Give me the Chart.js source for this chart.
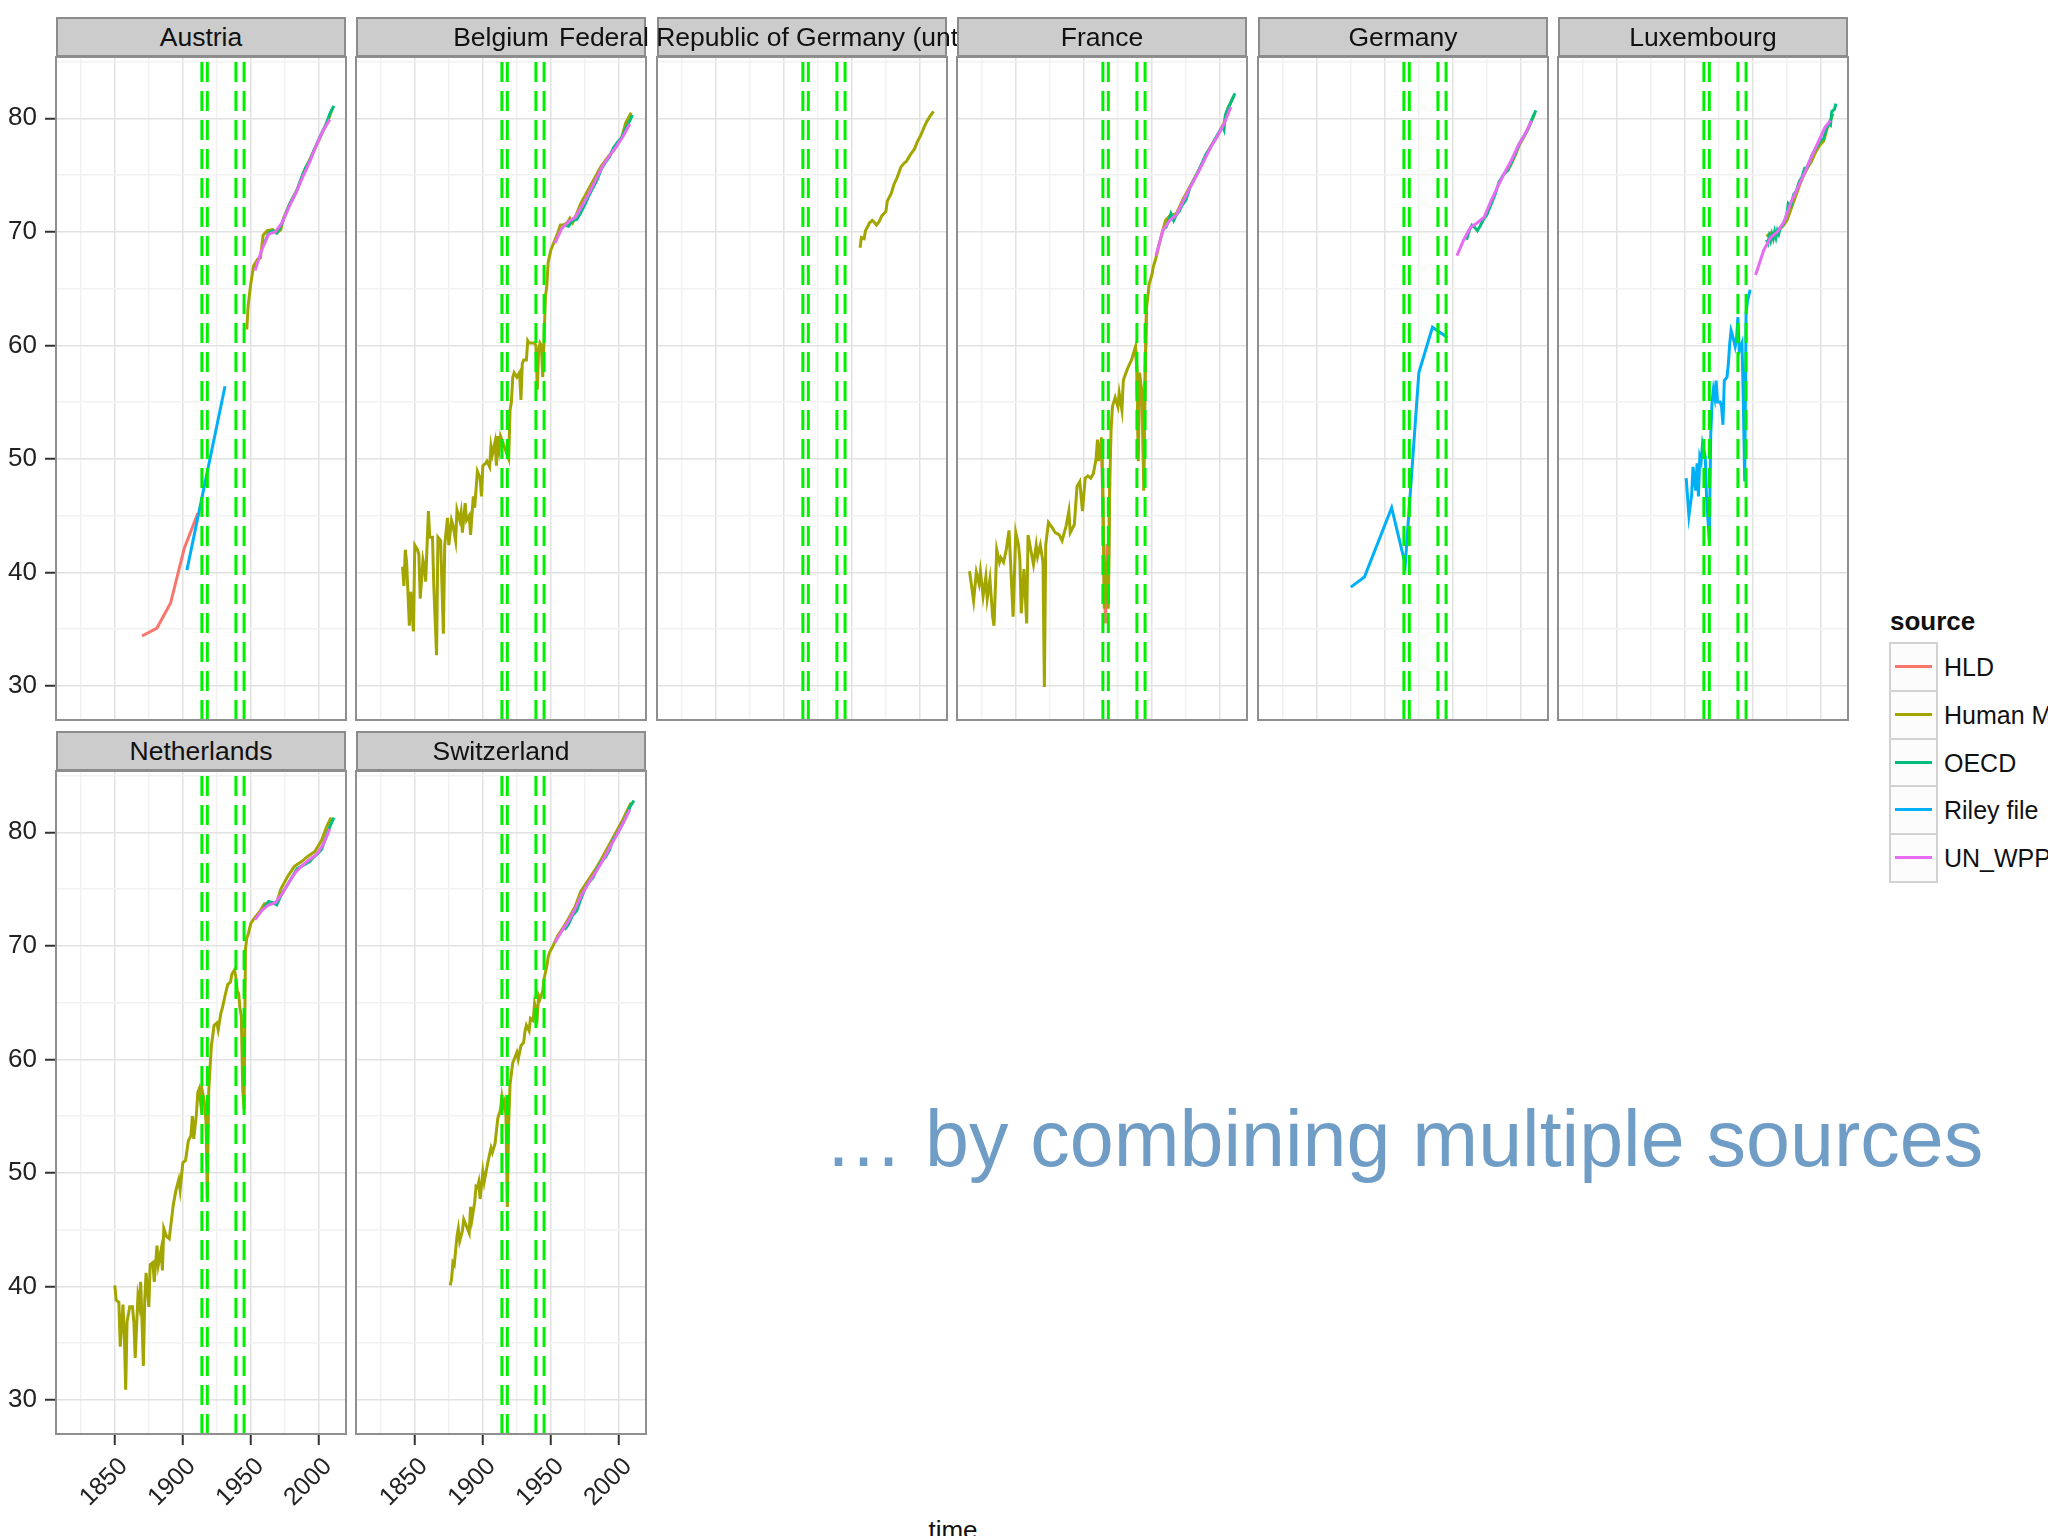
<!DOCTYPE html>
<html>
<head>
<meta charset="utf-8">
<script src="https://cdn.jsdelivr.net/npm/chart.js@4.4.1/dist/chart.umd.min.js"></script>
<style>
  html, body { margin: 0; padding: 0; background: #fff; }
  body { width: 2048px; height: 1536px; position: relative; overflow: hidden;
         font-family: "Liberation Sans", Arial, sans-serif; }
  canvas { position: absolute; }
  .strip { position: absolute; height: 40px; background: #cccccc; border: 2px solid #8c8c8c;
           box-sizing: border-box; }
  .strip span { position: absolute; left: 50%; top: 50%; transform: translate(-50%, -50%);
                white-space: nowrap; font-size: 26.5px; color: #111; }
  .key { position: absolute; left: 1889px; width: 49px; height: 50px; box-sizing: border-box;
         border: 2px solid #d2d2d2; background: #fcfcfc; }
  .key i { position: absolute; left: 4px; right: 4px; top: 21px; height: 3px; }
  .keylab { position: absolute; left: 1944px; font-size: 25px; color: #111; white-space: nowrap; line-height: 30px; }
</style>
</head>
<body>
<div id="page"></div>
<script>
// --- data: life expectancy at birth ---
const countries = ["Austria", "Belgium", "Federal Republic of Germany (until 1990)", "France",
  "Germany", "Luxembourg", "Netherlands", "Switzerland"];
const sources = ["HLD", "Human Mortality Database", "OECD", "Riley file", "UN_WPP"];
const sourceColors = ["#F8766D", "#A3A500", "#00BF7D", "#00B0F6", "#E76BF3"];
const warYears = [1914, 1918, 1939, 1945];
const xMajor = [1850, 1900, 1950, 2000];
const yMajor = [30, 40, 50, 60, 70, 80];

// Austria
const austriaHld = [[1870,34.4],[1881,35.1],[1891,37.3],[1901,42.1],[1911,45.2]];
const austriaRiley = [[1903,40.2],[1931,56.4]];
const austriaHmd = [[1947,61.4],[1948,63.5],[1950,65.5],[1952,67.0],[1955,67.6],[1957,67.7],[1959,69.7],
  [1962,70.1],[1966,70.2],[1969,69.9],[1972,70.2],[1974,71.2],[1979,72.6],[1984,73.7],[1989,75.3],
  [1995,76.8],[2002,78.6],[2007,79.9],[2010,80.9]];
const austriaOecd = [[1960,69.0],[1963,69.9],[1966,70.1],[1969,69.9],[1972,70.5],[1975,71.4],[1978,72.3],
  [1981,73.0],[1984,73.7],[1987,74.7],[1990,75.6],[1993,76.2],[1996,77.1],[1999,77.9],[2002,78.7],
  [2005,79.4],[2008,80.4],[2011,81.1]];
const austriaUn = [[1953,66.6],[1958,68.4],[1963,69.8],[1968,70.0],[1973,70.8],[1978,72.2],[1983,73.4],
  [1988,74.8],[1993,76.1],[1998,77.6],[2003,78.9],[2008,79.9]];

// Belgium
const belgiumHmd = [[1841,40.5],[1842,38.8],[1843,42.0],[1844,40.9],[1846,35.3],[1847,38.3],[1849,34.8],
  [1850,42.4],[1852,42.0],[1853,41.6],[1854,37.7],[1856,41.1],[1857,40.5],[1858,39.2],[1860,45.4],
  [1861,43.1],[1863,43.1],[1864,38.7],[1866,32.7],[1867,43.1],[1869,42.8],[1871,34.6],[1872,42.4],
  [1874,44.8],[1875,42.4],[1877,44.6],[1878,44.2],[1880,42.8],[1881,45.5],[1883,44.6],[1884,45.3],
  [1885,43.5],[1887,46.1],[1888,44.6],[1890,45.0],[1891,43.3],[1893,46.7],[1894,45.7],[1896,48.9],
  [1898,48.3],[1899,46.7],[1900,49.4],[1902,49.6],[1903,49.8],[1905,49.3],[1906,51.1],[1907,50.4],
  [1909,51.5],[1910,49.4],[1911,52.0],[1912,50.9],[1913,52.0],[1919,50.0],[1920,54.3],[1921,55.0],
  [1922,57.2],[1923,57.6],[1925,57.2],[1926,57.4],[1927,57.6],[1928,55.2],[1929,58.4],[1930,58.7],
  [1932,58.7],[1933,60.4],[1934,60.2],[1936,60.2],[1938,60.2],[1939,60.0],[1940,56.1],[1941,59.5],
  [1942,60.2],[1943,60.0],[1944,57.2],[1945,60.6],[1946,64.3],[1947,65.2],[1948,67.3],[1950,68.4],
  [1952,69.0],[1955,69.9],[1957,70.6],[1959,70.6],[1962,70.8],[1964,71.2],[1966,70.8],[1969,71.6],
  [1972,72.5],[1977,73.6],[1982,74.7],[1987,75.8],[1992,76.6],[1997,77.3],[2002,78.3],[2005,79.6],
  [2009,80.5]];
const belgiumOecd = [[1960,70.6],[1963,70.5],[1966,71.0],[1969,71.1],[1972,71.7],[1975,72.4],[1978,73.2],
  [1981,73.9],[1984,74.6],[1987,75.5],[1990,76.1],[1993,76.6],[1996,77.4],[1999,77.9],[2002,78.3],
  [2005,79.1],[2008,79.8],[2010,80.3]];
const belgiumUn = [[1953,69.0],[1958,70.3],[1963,70.9],[1968,71.3],[1973,72.3],[1978,73.4],[1983,74.6],
  [1988,75.8],[1993,76.7],[1998,77.5],[2003,78.4],[2008,79.5]];

// Federal Republic of Germany
const frgHmd = [[1956,68.6],[1957,69.5],[1959,69.4],[1960,70.1],[1963,70.8],[1965,71.0],[1966,70.9],
  [1968,70.6],[1970,70.9],[1972,71.4],[1975,71.8],[1976,72.7],[1979,73.4],[1981,74.2],[1983,74.7],
  [1986,75.7],[1988,76.0],[1990,76.2],[1993,76.8],[1996,77.3],[1998,77.9],[2001,78.6],[2003,79.2],
  [2005,79.7],[2007,80.1],[2010,80.6]];

// France
const franceHldWw1 = [[1913,51.5],[1914,45.5],[1915,38.5],[1916,35.5],[1917,42.5],[1918,37.5],[1919,48.0]];
const franceHldWw2 = [[1938,59.7],[1939,58.0],[1940,51.5],[1941,57.0],[1942,56.0],[1943,54.5],[1944,48.5],
  [1945,57.5],[1946,63.0]];
const franceHmd = [[1816,40.1],[1819,37.5],[1821,40.0],[1823,39.0],[1824,40.1],[1826,37.9],[1828,39.6],
  [1829,37.7],[1831,39.4],[1833,36.1],[1834,35.3],[1836,42.0],[1838,40.9],[1839,41.3],[1841,40.9],
  [1843,42.0],[1845,43.7],[1846,41.3],[1848,36.1],[1850,43.5],[1852,42.4],[1853,41.1],[1854,36.4],
  [1856,40.3],[1858,35.5],[1859,43.3],[1861,42.0],[1863,40.7],[1865,42.4],[1866,41.4],[1868,42.4],
  [1870,40.9],[1871,29.9],[1872,42.4],[1874,44.4],[1877,43.9],[1879,43.5],[1882,43.3],[1884,42.8],
  [1887,44.1],[1889,45.4],[1890,43.5],[1893,44.2],[1895,47.6],[1897,48.0],[1899,45.4],[1901,48.3],
  [1903,48.5],[1905,48.3],[1907,48.7],[1909,50.0],[1910,51.7],[1911,49.8],[1913,51.9],[1914,47.5],
  [1915,36.8],[1916,39.8],[1917,41.0],[1918,36.8],[1919,47.5],[1920,52.5],[1921,54.6],[1923,55.4],
  [1925,54.6],[1926,55.8],[1928,54.3],[1929,56.9],[1931,57.6],[1933,58.2],[1935,58.7],[1937,59.5],
  [1938,59.9],[1939,57.8],[1940,49.8],[1941,57.6],[1942,56.5],[1943,55.8],[1944,47.2],[1945,56.5],
  [1946,63.2],[1948,65.4],[1950,66.2],[1951,66.9],[1953,67.7],[1956,69.2],[1958,70.1],[1960,71.0],
  [1963,71.4],[1968,71.6],[1973,72.9],[1978,74.0],[1983,75.1],[1988,76.2],[1993,77.5],[1998,78.4],
  [2003,79.6],[2006,80.9],[2010,81.9]];
const franceOecd = [[1960,70.3],[1962,70.9],[1964,71.6],[1966,71.0],[1968,71.5],[1970,71.8],[1972,72.3],
  [1975,72.8],[1978,73.9],[1981,74.6],[1984,75.3],[1987,76.1],[1990,76.9],[1993,77.4],[1996,78.1],
  [1999,78.7],[2002,79.3],[2003,79.0],[2004,80.3],[2006,80.9],[2008,81.4],[2011,82.2]];
const franceUn = [[1953,67.9],[1958,70.1],[1963,71.0],[1968,71.5],[1973,72.7],[1978,73.9],[1983,75.0],
  [1988,76.2],[1993,77.4],[1998,78.4],[2003,79.5],[2008,81.0]];

// Germany
const germanyRiley = [[1875,38.7],[1885,39.6],[1905,45.7],[1915,40.7],[1925,57.6],[1935,61.6],[1946,60.7]];
const germanyHmd = [[1990,75.3],[1993,76.0],[1996,76.8],[1999,77.7],[2002,78.3],[2005,79.0],[2008,79.8],[2010,80.4]];
const germanyOecd = [[1960,69.3],[1962,70.1],[1964,70.6],[1966,70.4],[1968,70.1],[1970,70.5],[1972,71.0],
  [1975,71.5],[1978,72.4],[1981,73.3],[1984,74.4],[1987,75.0],[1990,75.4],[1993,76.1],[1996,76.9],
  [1999,77.8],[2002,78.4],[2005,79.0],[2008,79.9],[2011,80.7]];
const germanyUn = [[1953,67.9],[1958,69.3],[1963,70.4],[1968,70.8],[1973,71.3],[1978,72.7],[1983,74.0],
  [1988,75.2],[1993,76.3],[1998,77.6],[2003,78.6],[2008,79.8]];

// Luxembourg
const luxRiley = [[1901,48.3],[1903,45.0],[1905,46.8],[1906,49.3],[1908,47.2],[1909,49.6],[1910,46.7],
  [1911,50.2],[1912,49.8],[1913,51.3],[1915,50.2],[1916,46.5],[1918,42.8],[1919,52.0],[1920,55.0],
  [1921,56.1],[1922,55.4],[1923,56.9],[1924,55.0],[1926,55.0],[1927,54.6],[1928,53.0],[1929,56.9],
  [1931,57.2],[1932,58.4],[1933,60.2],[1934,61.3],[1935,60.9],[1937,59.9],[1938,60.6],[1939,62.5],
  [1940,59.5],[1942,60.2],[1943,55.0],[1944,48.0],[1945,62.8],[1946,63.9],[1948,64.9]];
const luxHmd = [[1960,69.6],[1963,69.9],[1966,69.8],[1969,70.2],[1972,70.5],[1975,71.0],[1978,72.0],
  [1981,73.0],[1984,74.0],[1987,74.9],[1990,75.6],[1993,76.2],[1996,77.0],[1999,77.6],[2002,78.0],
  [2005,79.3],[2009,80.4]];
const luxOecd = [[1960,69.3],[1961,69.0],[1962,69.6],[1963,69.2],[1964,69.8],[1965,69.4],[1966,70.0],
  [1967,69.5],[1968,70.1],[1969,69.8],[1970,70.3],[1972,70.6],[1974,71.2],[1975,71.6],[1976,72.5],
  [1978,72.3],[1980,73.3],[1982,73.6],[1984,74.4],[1986,74.8],[1988,75.6],[1990,75.7],[1992,76.3],
  [1994,76.9],[1996,77.3],[1998,77.7],[2000,78.1],[2002,78.2],[2004,79.1],[2006,79.5],[2007,79.4],
  [2008,80.6],[2010,80.8],[2011,81.3]];
const luxUn = [[1952,66.2],[1958,68.4],[1963,69.5],[1968,70.0],[1973,70.9],[1978,72.6],[1983,73.9],
  [1988,75.2],[1993,76.6],[1998,77.9],[2003,79.2],[2007,79.8]];

// Netherlands
const nlHmd = [[1850,40.1],[1851,38.8],[1853,38.6],[1854,34.7],[1856,38.4],[1857,35.8],[1858,30.9],
  [1859,36.9],[1861,38.2],[1863,38.2],[1864,36.9],[1865,33.7],[1867,39.1],[1868,38.4],[1869,40.4],
  [1870,36.9],[1871,33.0],[1872,38.8],[1873,41.2],[1875,38.2],[1876,41.9],[1878,42.1],[1879,40.4],
  [1881,43.6],[1882,41.9],[1884,43.2],[1885,41.4],[1886,45.1],[1888,44.4],[1890,44.2],[1893,47.2],
  [1895,48.5],[1897,49.4],[1898,48.5],[1900,50.9],[1902,51.1],[1904,52.8],[1906,53.3],[1907,55.0],
  [1908,53.0],[1910,55.2],[1911,57.1],[1912,57.4],[1913,56.3],[1914,57.4],[1915,56.8],[1916,56.0],
  [1917,54.6],[1918,47.7],[1919,57.1],[1920,59.3],[1921,61.2],[1923,63.0],[1925,63.2],[1926,62.6],
  [1928,64.1],[1929,64.5],[1931,65.6],[1933,66.6],[1935,66.8],[1936,67.5],[1938,67.9],[1939,67.2],
  [1940,66.0],[1941,65.8],[1942,64.5],[1943,63.8],[1944,57.4],[1945,55.6],[1946,69.7],[1947,70.7],
  [1948,71.0],[1950,72.0],[1953,72.5],[1957,73.1],[1960,73.7],[1965,73.7],[1969,73.8],[1972,75.0],
  [1977,76.1],[1982,77.0],[1987,77.4],[1992,77.9],[1997,78.3],[2002,79.3],[2006,80.6],[2009,81.3]];
const nlOecd = [[1960,73.4],[1963,73.9],[1966,73.8],[1969,73.6],[1972,74.4],[1975,75.0],[1978,75.6],
  [1981,76.2],[1984,76.8],[1987,77.0],[1990,77.2],[1993,77.4],[1996,77.8],[1999,78.1],[2002,78.5],
  [2005,79.5],[2008,80.5],[2011,81.3]];
const nlUn = [[1953,72.3],[1958,73.1],[1963,73.6],[1968,73.8],[1973,74.6],[1978,75.6],[1983,76.5],
  [1988,77.1],[1993,77.6],[1998,78.0],[2003,78.9],[2008,80.3]];

// Switzerland
const chHmd = [[1876,40.1],[1877,40.6],[1878,42.1],[1879,41.9],[1881,44.4],[1882,45.1],[1883,44.0],
  [1885,44.9],[1886,45.9],[1888,45.3],[1890,44.7],[1891,47.0],[1892,45.9],[1894,47.4],[1895,48.8],
  [1896,48.7],[1897,49.2],[1898,47.7],[1900,50.1],[1901,49.2],[1903,50.5],[1904,51.1],[1906,52.2],
  [1907,51.8],[1909,52.6],[1910,53.7],[1911,54.8],[1913,55.6],[1914,56.7],[1915,55.9],[1916,56.3],
  [1917,55.0],[1918,47.0],[1919,54.4],[1920,57.8],[1922,59.7],[1923,60.0],[1925,60.6],[1926,60.0],
  [1928,61.2],[1930,61.5],[1931,62.5],[1932,63.0],[1934,62.5],[1935,63.6],[1937,63.4],[1938,64.9],
  [1940,63.8],[1941,65.6],[1942,65.3],[1944,66.0],[1945,67.1],[1947,68.2],[1948,69.0],[1949,69.4],
  [1952,70.1],[1955,70.9],[1959,71.6],[1963,72.4],[1968,73.5],[1972,74.8],[1977,75.7],[1982,76.6],
  [1987,77.6],[1992,78.7],[1997,79.8],[2002,80.9],[2006,81.9],[2009,82.6]];
const chOecd = [[1960,71.4],[1963,71.9],[1966,72.7],[1969,73.1],[1972,74.1],[1975,75.0],[1978,75.6],
  [1981,76.0],[1984,76.8],[1987,77.4],[1990,77.8],[1993,78.4],[1996,79.4],[1999,79.9],[2002,80.6],
  [2005,81.3],[2008,82.2],[2011,82.8]];
const chUn = [[1953,70.3],[1958,71.3],[1963,72.2],[1968,73.3],[1973,74.6],[1978,75.6],[1983,76.5],
  [1988,77.5],[1993,78.6],[1998,79.7],[2003,80.8],[2008,82.0]];

// [panel, source, data]
const seriesTable = [
  [0, 0, austriaHld], [0, 1, austriaHmd], [0, 2, austriaOecd], [0, 3, austriaRiley], [0, 4, austriaUn],
  [1, 1, belgiumHmd], [1, 2, belgiumOecd], [1, 4, belgiumUn],
  [2, 1, frgHmd],
  [3, 0, franceHldWw1], [3, 0, franceHldWw2], [3, 1, franceHmd], [3, 2, franceOecd], [3, 4, franceUn],
  [4, 1, germanyHmd], [4, 2, germanyOecd], [4, 3, germanyRiley], [4, 4, germanyUn],
  [5, 1, luxHmd], [5, 2, luxOecd], [5, 3, luxRiley], [5, 4, luxUn],
  [6, 1, nlHmd], [6, 2, nlOecd], [6, 4, nlUn],
  [7, 1, chHmd], [7, 2, chOecd], [7, 4, chUn]
];

// --- layout ---
const xMin = 1806.8, xMax = 2019.9, yMin = 27.0, yMax = 85.4;
const panelW = 290, panelH = 663, pad = 3;
const colLefts = [56, 356, 657, 957, 1258, 1558];
const rowTops = [57, 771];
const drawOrder = [5, 4, 3, 2, 1]; // ggplot draws UN_WPP last, so on top
const majorGrid = "#e2e2e2", minorGrid = "#f2f2f2";

Chart.defaults.font.family = '"Liberation Sans", Arial, sans-serif';

const panelBorder = {
  id: "panelBorder",
  afterDraw(chart) {
    const { ctx, chartArea: a } = chart;
    ctx.save();
    ctx.strokeStyle = "#8f8f8f";
    ctx.lineWidth = 2;
    ctx.strokeRect(a.left, a.top, a.right - a.left, a.bottom - a.top);
    ctx.restore();
  }
};

const page = document.getElementById("page");

countries.forEach((name, p) => {
  const row = p < 6 ? 0 : 1;
  const col = p < 6 ? p : p - 6;
  const showY = col === 0;
  const showX = row === 1;
  const L = showY ? 56 : 0;
  const B = showX ? 95 : 0;
  const left = colLefts[col], top = rowTops[row];

  const strip = document.createElement("div");
  strip.className = "strip";
  strip.style.left = left + "px";
  strip.style.top = (top - 40) + "px";
  strip.style.width = panelW + "px";
  strip.style.zIndex = p + 2;
  strip.innerHTML = "<span>" + name + "</span>";
  page.appendChild(strip);

  const canvas = document.createElement("canvas");
  const w = L + panelW + 2 * pad + 10, h = panelH + B + 2 * pad;
  canvas.width = w; canvas.height = h;
  canvas.style.width = w + "px"; canvas.style.height = h + "px";
  canvas.style.left = (left - L - pad) + "px";
  canvas.style.top = (top - pad) + "px";
  page.appendChild(canvas);

  const datasets = [];
  warYears.forEach(yr => {
    datasets.push({
      data: [{ x: yr, y: yMin }, { x: yr, y: yMax }],
      borderColor: "#00f000", borderWidth: 3, borderDash: [20, 9],
      pointRadius: 0, order: 0
    });
  });
  seriesTable.filter(s => s[0] === p).forEach(([, src, pts]) => {
    datasets.push({
      label: sources[src],
      data: pts.map(([x, y]) => ({ x, y })),
      borderColor: sourceColors[src], borderWidth: 3,
      pointRadius: 0, tension: 0, fill: false, order: drawOrder[src]
    });
  });

  new Chart(canvas, {
    type: "line",
    data: { datasets },
    options: {
      responsive: false, animation: false, devicePixelRatio: 1,
      layout: { padding: { left: pad, top: pad, bottom: pad, right: pad + 10 } },
      plugins: { legend: { display: false }, tooltip: { enabled: false } },
      scales: {
        x: {
          type: "linear", min: xMin, max: xMax,
          border: { display: false },
          grid: {
            color: c => xMajor.includes(c.tick && c.tick.value) ? majorGrid : minorGrid,
            lineWidth: 1.5, drawTicks: showX, tickLength: 11, tickWidth: 2,
            tickColor: c => xMajor.includes(c.tick && c.tick.value) ? "#333" : "rgba(0,0,0,0)"
          },
          ticks: {
            display: showX, stepSize: 25, includeBounds: false, autoSkip: false,
            minRotation: 45, maxRotation: 45, padding: 7, labelOffset: 9,
            color: "#222", font: { size: 25 },
            callback: v => xMajor.includes(v) ? String(v) : ""
          },
          afterFit: s => { s.height = B; s.paddingLeft = 0; s.paddingRight = 0; }
        },
        y: {
          type: "linear", min: yMin, max: yMax,
          border: { display: false },
          grid: {
            color: c => yMajor.includes(c.tick && c.tick.value) ? majorGrid : minorGrid,
            lineWidth: 1.5, drawTicks: showY, tickLength: 11, tickWidth: 2,
            tickColor: c => yMajor.includes(c.tick && c.tick.value) ? "#333" : "rgba(0,0,0,0)"
          },
          ticks: {
            display: showY, stepSize: 5, includeBounds: false, autoSkip: false, maxTicksLimit: 30,
            padding: 8, color: "#222", font: { size: 26 },
            callback: v => yMajor.includes(v) ? String(v) : ""
          },
          afterFit: s => { s.width = L; s.paddingTop = 0; s.paddingBottom = 0; }
        }
      }
    },
    plugins: [panelBorder]
  });
});

// legend
const lt = document.createElement("div");
lt.textContent = "source";
lt.style.cssText = "position:absolute;left:1890px;top:606px;font-size:26px;font-weight:bold;color:#111;line-height:30px;";
page.appendChild(lt);
sources.forEach((s, i) => {
  const top = 642 + i * 47.8;
  const key = document.createElement("div");
  key.className = "key";
  key.style.top = top + "px";
  key.innerHTML = '<i style="background:' + sourceColors[i] + '"></i>';
  page.appendChild(key);
  const lab = document.createElement("div");
  lab.className = "keylab";
  lab.style.top = (top + 10) + "px";
  lab.textContent = s;
  page.appendChild(lab);
});

// axis title and slide text
const xt = document.createElement("div");
xt.textContent = "time";
xt.style.cssText = "position:absolute;left:953px;top:1515px;transform:translateX(-50%);font-size:26px;color:#111;";
page.appendChild(xt);

const headline = document.createElement("div");
headline.textContent = "\u2026 by combining multiple sources";
headline.style.cssText = "position:absolute;left:824px;top:1099px;font-size:79px;line-height:1;color:#709dc6;white-space:nowrap;";
page.appendChild(headline);
</script>
</body>
</html>
